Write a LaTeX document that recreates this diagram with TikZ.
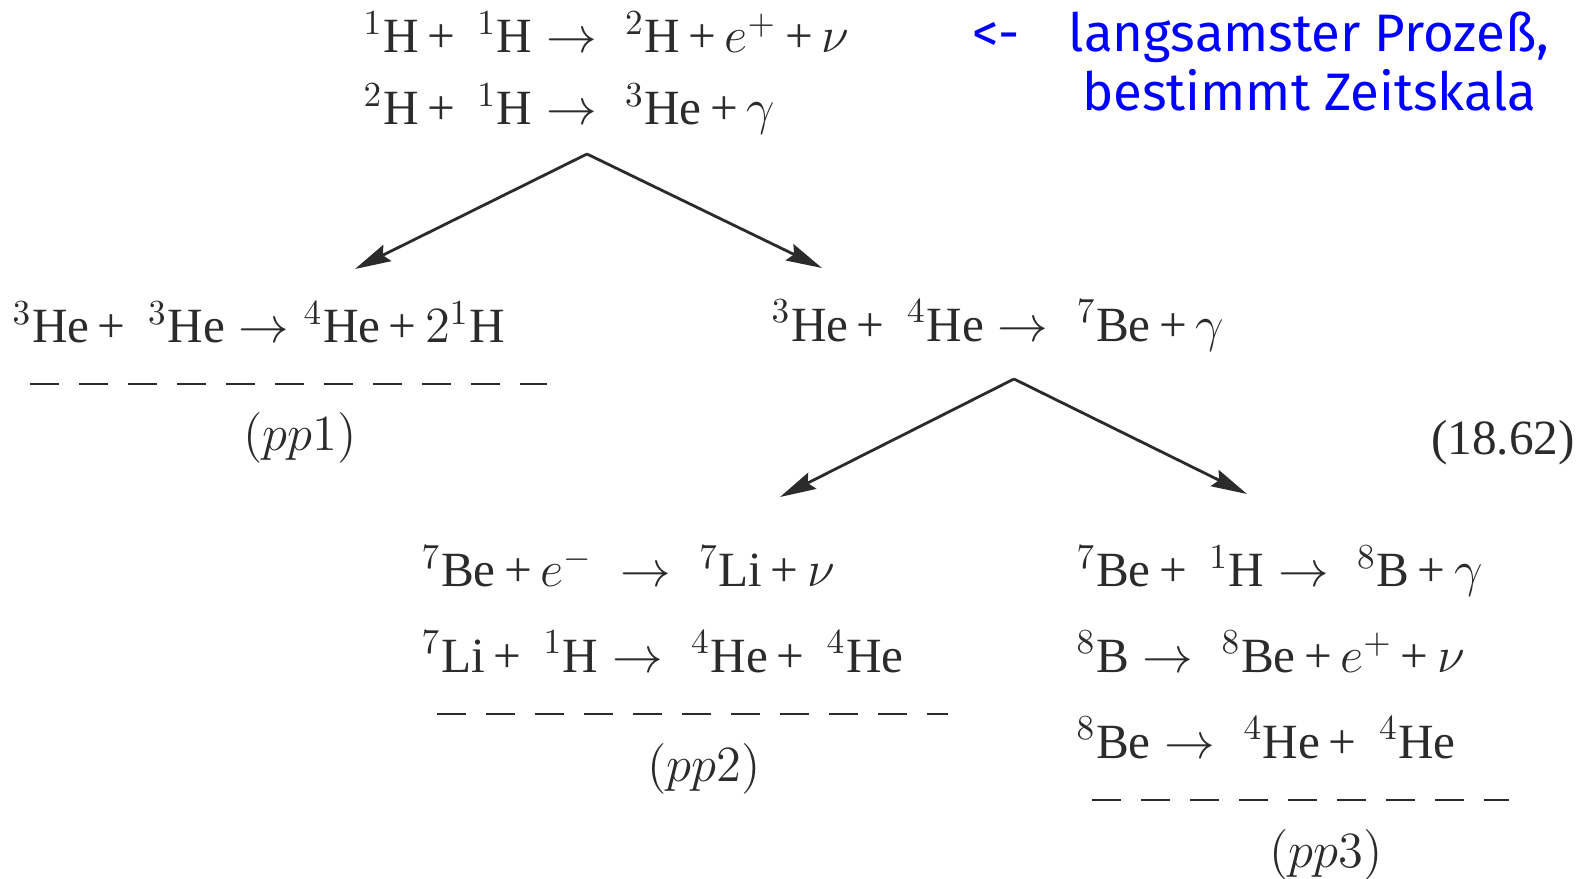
\documentclass[tikz,border=0pt]{standalone}
\usepackage{fontspec}
\setmainfont{Liberation Serif}
\newfontfamily\blaufont{Fira Sans}
\usetikzlibrary{arrows.meta}
\definecolor{tinte}{HTML}{2B2B2B}
\definecolor{blau}{HTML}{0000FF}
\newcommand{\nuk}[2]{{}^{#1}\mathrm{#2}}
\newcommand{\pl}{\mathbin{\mbox{+}}}
\newcommand{\engsatz}{\medmuskip=3mu\relax\thickmuskip=5mu\relax}

\begin{document}
\begin{tikzpicture}[x=0.01cm, y=-0.01cm,
  reak/.style={anchor=base west, inner sep=0pt, text=tinte,
    font=\fontsize{14}{16}\selectfont\engsatz},
  kette/.style={anchor=base, inner sep=0pt, text=tinte, font=\fontsize{14}{16}\selectfont},
  zweig/.style={-{Stealth[length=0.36cm, width=0.18cm, inset=0.05cm]}, tinte, line width=0.8pt},
  strich/.style={tinte, line width=0.5pt, dash pattern=on 0.29cm off 0.2cm},
  notiz/.style={anchor=base, inner sep=0pt, text=blau, font=\blaufont\fontsize{15}{18}\selectfont}]
\useasboundingbox (0,0) rectangle (1581,879);

% ================= Start: pp-Kette =================
\node[reak] (hh)  at (363,53)  {$\nuk{1}{H} \pl \;\nuk{1}{H} \rightarrow\; \nuk{2}{H} \pl e^{+} \pl \nu$};
\node[reak] (dh)  at (363,125) {$\nuk{2}{H} \pl \;\nuk{1}{H} \rightarrow\; \nuk{3}{He} \pl \gamma$};
\node[notiz] (pfeil) at (996,52) {<-};
\node[notiz] (lang)  at (1309,52)  {langsamster Prozeß,};
\node[notiz] (zeit)  at (1309,111) {bestimmt Zeitskala};

\coordinate (gabel1) at (587,154);
\coordinate (ziel1a) at (355,269);
\coordinate (ziel1b) at (822,268);
\draw[zweig] (gabel1) -- (ziel1a);
\draw[zweig] (gabel1) -- (ziel1b);

% ================= Zweig pp1 =================
\node[reak] (hehe) at (12,343) {$\nuk{3}{He} \pl \;\nuk{3}{He} \rightarrow \nuk{4}{He} \pl 2\nuk{1}{H}$};
\draw[strich] (30,384) -- (547,384);
\node[kette] (pp1) at (300,450) {$(pp1)$};

% ================= Berylliumbildung =================
\node[reak] (hebe) at (771,341) {$\nuk{3}{He} \pl \;\nuk{4}{He} \rightarrow\; \nuk{7}{Be} \pl \gamma$};
\node[kette] (gln) at (1503,454) {(18.62)};

\coordinate (gabel2) at (1014,379);
\coordinate (ziel2a) at (780,497);
\coordinate (ziel2b) at (1247,494);
\draw[zweig] (gabel2) -- (ziel2a);
\draw[zweig] (gabel2) -- (ziel2b);

% ================= Zweig pp2 =================
\node[reak] (bee)  at (421,587) {$\nuk{7}{Be} \pl e^{-} \;\rightarrow\; \nuk{7}{Li} \pl \nu$};
\node[reak] (lih)  at (421,672) {$\nuk{7}{Li} \pl \;\nuk{1}{H} \rightarrow\; \nuk{4}{He} \pl \;\nuk{4}{He}$};
\draw[strich] (437,714) -- (948,714);
\node[kette] (pp2) at (704,781) {$(pp2)$};

% ================= Zweig pp3 =================
\node[reak] (beh)  at (1076,587) {$\nuk{7}{Be} \pl \;\nuk{1}{H} \rightarrow\; \nuk{8}{B} \pl \gamma$};
\node[reak] (bor)  at (1076,672) {$\nuk{8}{B} \rightarrow\; \nuk{8}{Be} \pl e^{+} \pl \nu$};
\node[reak] (bebe) at (1076,758) {$\nuk{8}{Be} \rightarrow\; \nuk{4}{He} \pl \;\nuk{4}{He}$};
\draw[strich] (1092,800) -- (1509,800);
\node[kette] (pp3) at (1326,867) {$(pp3)$};

\end{tikzpicture}
\end{document}
